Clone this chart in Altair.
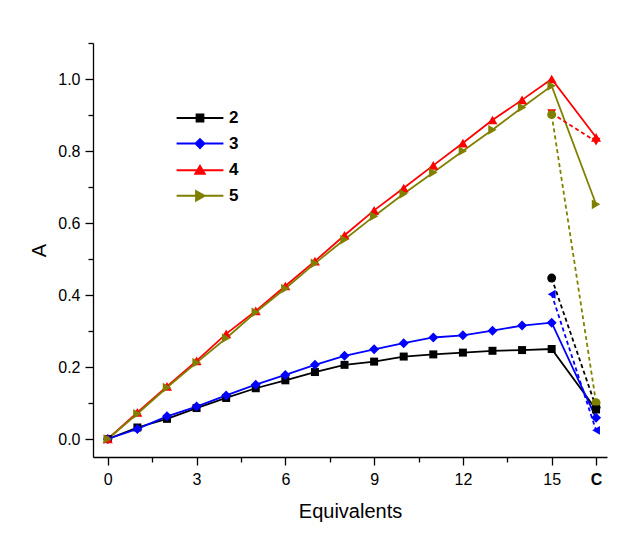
import altair as alt
import pandas as pd

# ---- data ----
series = ["2", "3", "4", "5"]
colors = ["#000000", "#0000ff", "#ff0000", "#808000"]
equivalents = list(range(16))
c_position = 16.5  # position of the "C" column on the x axis

A_2 = [0, 0.032, 0.056, 0.086, 0.114, 0.141, 0.163, 0.186, 0.206, 0.215,
       0.229, 0.235, 0.240, 0.245, 0.247, 0.250]
A_3 = [0, 0.028, 0.063, 0.090, 0.121, 0.151, 0.178, 0.206, 0.231, 0.249,
       0.266, 0.282, 0.288, 0.301, 0.315, 0.323]
A_4 = [0, 0.074, 0.146, 0.217, 0.292, 0.356, 0.425, 0.494, 0.566, 0.635,
       0.697, 0.760, 0.822, 0.886, 0.942, 1.000]
A_5 = [0, 0.070, 0.143, 0.212, 0.280, 0.352, 0.418, 0.488, 0.554, 0.619,
       0.681, 0.740, 0.800, 0.859, 0.921, 0.981]
A_C = [0.082, 0.059, 0.838, 0.652]          # solid-line value at C

dashed_start = [0.447, 0.402, 0.905, 0.901]  # extra point at 15 equivalents
dashed_end = [0.088, 0.024, 0.826, 0.101]    # dashed value at C

solid_shapes = ["square", "diamond", "triangle-up", "triangle-right"]
dashed_shapes = ["circle", "triangle-left", "triangle-down", "circle"]
solid_sizes = [64, 100, 100, 95]

# ---- tables ----
rows = []
for s, vals, vc, shp, sz in zip(series, [A_2, A_3, A_4, A_5], A_C, solid_shapes, solid_sizes):
    for x, v in zip(equivalents, vals):
        rows.append({"series": s, "x": x, "A": v, "marker": shp, "msize": sz})
    rows.append({"series": s, "x": c_position, "A": vc, "marker": shp, "msize": sz})
solid = pd.DataFrame(rows)

drows = []
for s, a0, a1, shp in zip(series, dashed_start, dashed_end, dashed_shapes):
    drows.append({"series": s, "x": equivalents[-1], "A": a0, "marker": shp})
    drows.append({"series": s, "x": c_position, "A": a1, "marker": shp})
dashed = pd.DataFrame(drows)

FONT = "Liberation Sans"

x_ticks = [0, 1.5, 3, 4.5, 6, 7.5, 9, 10.5, 12, 13.5, 15, 16.5]
y_ticks = [round(i * 0.1, 1) for i in range(12)]

x_axis = alt.Axis(
    values=x_ticks,
    title="Equivalents",
    labelExpr="datum.value == 16.5 ? 'C' : (datum.value % 3 == 0 ? format(datum.value, 'd') : '')",
    labelFontWeight={"condition": {"test": "datum.value == 16.5", "value": "bold"}, "value": "normal"},
    tickSize={"condition": {"test": "datum.value % 3 == 0 || datum.value == 16.5", "value": 8}, "value": 5},
    labelOverlap=False,
    labelPadding=6,
    titlePadding=14,
    grid=False,
)
y_axis = alt.Axis(
    values=y_ticks,
    title="A",
    labelExpr="round(datum.value * 10) % 2 == 0 ? format(datum.value, '.1f') : ''",
    tickSize={"condition": {"test": "round(datum.value * 10) % 2 == 0", "value": 8}, "value": 5},
    labelOverlap=False,
    labelPadding=5,
    titlePadding=8,
    grid=False,
)

x_enc = alt.X("x:Q", scale=alt.Scale(domain=[-0.5, 16.87], nice=False, zero=False), axis=x_axis)
y_enc = alt.Y("A:Q", scale=alt.Scale(domain=[-0.05, 1.1], nice=False, zero=False), axis=y_axis)

legend_shape = (
    "datum.value == '2' ? 'M-1.8,0H1.8M-0.26,-0.26H0.26V0.26H-0.26Z' : "
    "datum.value == '3' ? 'M-1.8,0H1.8M0,-0.34L0.34,0L0,0.34L-0.34,0Z' : "
    "datum.value == '4' ? 'M-1.8,0H1.8M0,-0.32L0.36,0.28L-0.36,0.28Z' : "
    "'M-1.8,0H1.8M0.34,0L-0.3,0.36L-0.3,-0.36Z'"
)

color_enc = alt.Color(
    "series:N",
    scale=alt.Scale(domain=series, range=colors),
    legend=alt.Legend(
        title=None,
        orient="none",
        legendX=93,
        legendY=61,
        padding=0,
        rowPadding=3.6,
        symbolSize=676,
        symbolType=alt.ExprRef(expr=legend_shape),
        symbolFillColor=alt.ExprRef(expr="scale('color', datum.value)"),
        symbolStrokeColor=alt.ExprRef(expr="scale('color', datum.value)"),
        symbolStrokeWidth=2,
        symbolOpacity=1,
        labelOffset=15,
        labelFont=FONT,
        labelFontSize=17,
        labelFontWeight="bold",
        labelColor="black",
    ),
)

base_solid = alt.Chart(solid)
lines = base_solid.mark_line(strokeWidth=1.8).encode(
    x=x_enc, y=y_enc, color=color_enc, detail="series:N"
)
points = base_solid.mark_point(filled=True, opacity=1).encode(
    x=x_enc, y=y_enc, color=color_enc,
    shape=alt.Shape("marker:N", scale=None),
    size=alt.Size("msize:Q", scale=None),
)

base_dash = alt.Chart(dashed)
dlines = base_dash.mark_line(strokeWidth=1.8, strokeDash=[4, 3]).encode(
    x=x_enc, y=y_enc, color=color_enc, detail="series:N"
)
dpoints = base_dash.mark_point(filled=True, opacity=1, size=80).encode(
    x=x_enc, y=y_enc, color=color_enc,
    shape=alt.Shape("marker:N", scale=None),
)

chart = (
    alt.layer(lines, dlines, dpoints, points)
    .properties(
        width=514,
        height=414,
        autosize=alt.AutoSizeParams(type="none"),
        padding={"left": 85, "top": 35, "right": 5, "bottom": 90},
        background="white",
    )
    .configure_view(stroke=None)
    .configure_axis(
        domainColor="black",
        domainWidth=1.3,
        tickColor="black",
        tickWidth=1.3,
        labelFont=FONT,
        labelFontSize=16,
        labelColor="black",
        titleFont=FONT,
        titleFontSize=20,
        titleFontWeight="normal",
        titleColor="black",
    )
)

chart.save("out.html", embed_options={"renderer": "svg", "actions": False})
